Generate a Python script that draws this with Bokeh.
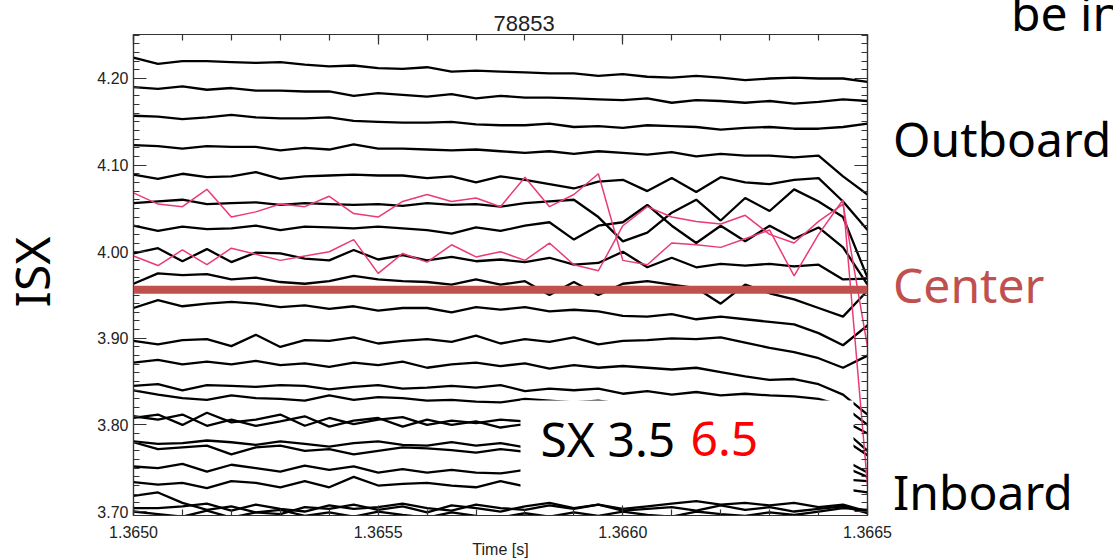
from bokeh.plotting import figure
from bokeh.layouts import row
from bokeh.models import (Range1d, LinearAxis, FixedTicker, NumeralTickFormatter,
                          CustomJSTickFormatter, Span, BoxAnnotation, Label, Div)
from bokeh.embed import file_html
from bokeh.resources import INLINE

# ---------------- data ----------------
time_s = [1.36500, 1.36505, 1.36510, 1.36515, 1.36520, 1.36525, 1.36530, 1.36535,
          1.36540, 1.36545, 1.36550, 1.36555, 1.36560, 1.36565, 1.36570, 1.36575,
          1.36580, 1.36585, 1.36590, 1.36595, 1.36600, 1.36605, 1.36610, 1.36615,
          1.36620, 1.36625, 1.36630, 1.36635, 1.36640, 1.36645, 1.36650]

ch01 = [4.224, 4.217, 4.220, 4.220, 4.219, 4.218, 4.219, 4.216, 4.214, 4.215, 4.212, 4.211, 4.213, 4.208, 4.209, 4.208,
        4.207, 4.206, 4.206, 4.203, 4.205, 4.202, 4.201, 4.203, 4.201, 4.198, 4.200, 4.201, 4.200, 4.200, 4.196]
ch02 = [4.190, 4.188, 4.191, 4.187, 4.189, 4.186, 4.186, 4.185, 4.185, 4.180, 4.183, 4.181, 4.179, 4.182, 4.177, 4.180,
        4.178, 4.178, 4.177, 4.176, 4.175, 4.177, 4.172, 4.175, 4.174, 4.172, 4.174, 4.171, 4.173, 4.176, 4.174]
ch03 = [4.157, 4.156, 4.153, 4.155, 4.158, 4.155, 4.154, 4.154, 4.155, 4.151, 4.150, 4.149, 4.149, 4.150, 4.147, 4.146,
        4.146, 4.148, 4.144, 4.145, 4.143, 4.146, 4.145, 4.144, 4.141, 4.143, 4.144, 4.142, 4.142, 4.144, 4.148]
ch04 = [4.123, 4.122, 4.119, 4.122, 4.121, 4.121, 4.117, 4.120, 4.118, 4.124, 4.119, 4.119, 4.118, 4.117, 4.118, 4.116,
        4.114, 4.116, 4.113, 4.116, 4.114, 4.112, 4.115, 4.110, 4.113, 4.111, 4.111, 4.109, 4.111, 4.087, 4.066]
ch05 = [4.089, 4.084, 4.090, 4.086, 4.087, 4.092, 4.084, 4.087, 4.088, 4.089, 4.088, 4.088, 4.085, 4.087, 4.080, 4.087,
        4.083, 4.078, 4.073, 4.081, 4.083, 4.070, 4.085, 4.069, 4.086, 4.080, 4.078, 4.083, 4.085, 4.058, 4.025]
ch06 = [4.056, 4.058, 4.060, 4.055, 4.056, 4.057, 4.054, 4.056, 4.055, 4.054, 4.055, 4.053, 4.056, 4.054, 4.055, 4.052,
        4.056, 4.058, 4.060, 4.040, 4.012, 4.022, 4.045, 4.060, 4.036, 4.062, 4.047, 4.072, 4.058, 4.040, 3.970]
ch07 = [4.030, 4.024, 4.029, 4.026, 4.027, 4.030, 4.025, 4.029, 4.028, 4.027, 4.029, 4.027, 4.025, 4.021, 4.028, 4.024,
        4.030, 4.034, 4.014, 4.030, 4.034, 4.054, 4.030, 4.010, 4.030, 4.012, 4.030, 4.015, 4.028, 4.005, 3.962]
ch08 = [3.998, 4.004, 3.989, 4.003, 3.988, 3.999, 3.998, 3.992, 3.990, 4.002, 3.991, 3.996, 3.990, 3.994, 3.989, 3.991,
        3.988, 3.993, 3.985, 3.987, 4.000, 3.982, 3.993, 3.982, 3.986, 3.984, 3.986, 3.983, 3.985, 3.968, 3.969]
ch09 = [3.963, 3.975, 3.973, 3.974, 3.968, 3.970, 3.965, 3.963, 3.966, 3.972, 3.968, 3.966, 3.965, 3.962, 3.968, 3.962,
        3.966, 3.950, 3.965, 3.950, 3.963, 3.966, 3.962, 3.958, 3.940, 3.962, 3.952, 3.945, 3.935, 3.925, 3.955]
ch10 = [3.935, 3.944, 3.937, 3.940, 3.942, 3.940, 3.936, 3.938, 3.934, 3.937, 3.932, 3.935, 3.935, 3.930, 3.936, 3.933,
        3.936, 3.931, 3.933, 3.931, 3.926, 3.925, 3.928, 3.922, 3.925, 3.922, 3.919, 3.916, 3.906, 3.892, 3.915]
ch11 = [3.897, 3.893, 3.898, 3.899, 3.891, 3.904, 3.890, 3.898, 3.897, 3.901, 3.894, 3.897, 3.899, 3.896, 3.903, 3.894,
        3.899, 3.896, 3.901, 3.893, 3.897, 3.898, 3.900, 3.899, 3.901, 3.895, 3.889, 3.884, 3.877, 3.866, 3.880]
ch12 = [3.872, 3.875, 3.870, 3.873, 3.870, 3.874, 3.869, 3.871, 3.867, 3.872, 3.869, 3.873, 3.866, 3.870, 3.872, 3.868,
        3.871, 3.865, 3.869, 3.866, 3.868, 3.866, 3.864, 3.866, 3.861, 3.856, 3.852, 3.853, 3.847, 3.835, 3.812]
ch13 = [3.845, 3.847, 3.840, 3.846, 3.845, 3.844, 3.846, 3.845, 3.841, 3.844, 3.846, 3.842, 3.843, 3.845, 3.843, 3.846,
        3.839, 3.842, 3.840, 3.842, 3.836, 3.839, 3.835, 3.838, 3.834, 3.836, 3.834, 3.833, 3.830, 3.822, 3.800]
ch14 = [3.840, 3.835, 3.831, 3.829, 3.834, 3.831, 3.830, 3.828, 3.834, 3.829, 3.832, 3.831, 3.828, 3.829, 3.827, 3.826,
        3.830, 3.828, 3.826, 3.828, 3.824, 3.826, 3.823, 3.825, 3.822, 3.821, 3.818, 3.816, 3.812, 3.805, 3.790]
ch15 = [3.808, 3.812, 3.800, 3.814, 3.803, 3.806, 3.812, 3.799, 3.808, 3.801, 3.806, 3.809, 3.800, 3.805, 3.802, 3.806,
        3.804, 3.800, 3.803, 3.801, 3.805, 3.800, 3.802, 3.799, 3.803, 3.800, 3.798, 3.801, 3.797, 3.795, 3.770]
ch16 = [3.810, 3.806, 3.812, 3.799, 3.806, 3.799, 3.804, 3.810, 3.798, 3.805, 3.808, 3.798, 3.806, 3.800, 3.804, 3.797,
        3.801, 3.796, 3.799, 3.795, 3.798, 3.794, 3.797, 3.793, 3.795, 3.792, 3.794, 3.790, 3.788, 3.784, 3.765]
ch17 = [3.781, 3.778, 3.779, 3.782, 3.780, 3.777, 3.781, 3.778, 3.775, 3.779, 3.781, 3.777, 3.776, 3.780, 3.776, 3.779,
        3.774, 3.777, 3.775, 3.778, 3.774, 3.776, 3.773, 3.775, 3.772, 3.774, 3.771, 3.770, 3.766, 3.760, 3.745]
ch18 = [3.780, 3.772, 3.774, 3.776, 3.766, 3.774, 3.776, 3.770, 3.772, 3.766, 3.770, 3.774, 3.773, 3.771, 3.768, 3.772,
        3.769, 3.770, 3.767, 3.770, 3.766, 3.768, 3.765, 3.767, 3.764, 3.765, 3.762, 3.760, 3.757, 3.752, 3.740]
ch19 = [3.752, 3.750, 3.755, 3.746, 3.754, 3.750, 3.746, 3.753, 3.748, 3.752, 3.745, 3.749, 3.745, 3.748, 3.745, 3.744,
        3.748, 3.744, 3.746, 3.742, 3.745, 3.741, 3.744, 3.740, 3.742, 3.739, 3.741, 3.738, 3.740, 3.737, 3.735]
ch20 = [3.734, 3.731, 3.733, 3.727, 3.735, 3.733, 3.728, 3.735, 3.728, 3.740, 3.730, 3.732, 3.733, 3.730, 3.728, 3.735,
        3.729, 3.733, 3.728, 3.731, 3.727, 3.730, 3.726, 3.729, 3.725, 3.728, 3.724, 3.727, 3.723, 3.726, 3.722]
ch21 = [3.718, 3.722, 3.710, 3.702, 3.706, 3.699, 3.697, 3.705, 3.703, 3.708, 3.702, 3.706, 3.699, 3.707, 3.704, 3.700,
        3.706, 3.710, 3.704, 3.708, 3.703, 3.706, 3.709, 3.712, 3.708, 3.710, 3.707, 3.710, 3.705, 3.708, 3.700]
ch22 = [3.704, 3.704, 3.706, 3.709, 3.701, 3.708, 3.703, 3.700, 3.707, 3.703, 3.705, 3.709, 3.704, 3.701, 3.708, 3.704,
        3.702, 3.707, 3.703, 3.708, 3.701, 3.703, 3.705, 3.701, 3.707, 3.702, 3.705, 3.700, 3.703, 3.706, 3.698]
ch23 = [3.700, 3.697, 3.694, 3.701, 3.693, 3.699, 3.702, 3.695, 3.699, 3.694, 3.700, 3.696, 3.693, 3.699, 3.695, 3.693,
        3.698, 3.694, 3.699, 3.695, 3.700, 3.696, 3.694, 3.700, 3.697, 3.695, 3.699, 3.696, 3.700, 3.704, 3.702]

# the two highlighted channels (SX 6.5)
pink_a = [4.068, 4.055, 4.052, 4.072, 4.040, 4.046, 4.055, 4.052, 4.064, 4.044, 4.040, 4.058, 4.066, 4.058, 4.062, 4.052,
          4.086, 4.052, 4.066, 4.090, 3.990, 3.985, 4.010, 4.008, 4.005, 4.015, 4.025, 3.972, 4.020, 4.060, 3.730]
pink_b = [3.995, 3.984, 4.002, 3.985, 4.004, 3.997, 3.990, 3.995, 4.000, 4.014, 3.975, 3.998, 3.988, 4.008, 3.994, 4.000,
          3.990, 4.010, 3.985, 3.978, 4.030, 4.052, 4.040, 4.035, 4.032, 4.042, 4.020, 4.010, 4.035, 4.055, 3.890]

black_channels = [ch01, ch02, ch03, ch04, ch05, ch06, ch07, ch08, ch09, ch10, ch11, ch12,
                  ch13, ch14, ch15, ch16, ch17, ch18, ch19, ch20, ch21, ch22, ch23]
pink_channels = [pink_a, pink_b]

center_isx = 3.956

x_major = [1.3650, 1.3655, 1.3660, 1.3665]
y_major = [3.70, 3.80, 3.90, 4.00, 4.10, 4.20]

# ---------------- layout (page pixels) ----------------
W, H = 1113, 560
LEFT_W = 80            # strip holding the "ISX" label
RIGHT_X = 893          # strip holding Outboard / Center / Inboard
FL, FR, FT, FB = 133, 867, 34, 515
X0, X1 = 1.3650, 1.3665
Y0, Y1 = 3.6954, 4.2508


def px2x(px):
    return X0 + (px - FL) / (FR - FL) * (X1 - X0)


def px2y(py):
    return Y1 - (py - FT) / (FB - FT) * (Y1 - Y0)


p = figure(width=RIGHT_X - LEFT_W, height=H, x_range=Range1d(X0, X1), y_range=Range1d(Y0, Y1),
           output_backend="svg", toolbar_location=None,
           x_axis_location=None, y_axis_location=None,
           min_border_left=FL - LEFT_W, min_border_right=RIGHT_X - FR,
           min_border_top=FT, min_border_bottom=H - FB)
p.grid.visible = False
p.outline_line_color = "#333333"
p.outline_line_width = 1.2
p.background_fill_color = "white"
p.border_fill_color = "white"

p.title.text = "78853"
p.title.align = "left"
p.title.offset = 360
p.title.standoff = 8
p.title.text_font = "Liberation Sans"
p.title.text_font_size = "22px"
p.title.text_font_style = "normal"
p.title.text_color = "#222222"

x_minor = [round(1.3650 + 0.0001 * k, 4) for k in range(16)]
y_minor = [round(3.70 + 0.01 * k, 2) for k in range(56)]

AX_COL = "#333333"


def make_axis(ticks, minor, formatter, tin, mtin, standoff):
    return LinearAxis(ticker=FixedTicker(ticks=ticks, minor_ticks=minor), formatter=formatter,
                      major_tick_in=tin, major_tick_out=0, minor_tick_in=mtin, minor_tick_out=0,
                      axis_line_color=AX_COL, axis_line_width=1.2,
                      major_tick_line_color=AX_COL, minor_tick_line_color=AX_COL,
                      major_tick_line_width=1.2, minor_tick_line_width=1.2,
                      major_label_text_font="Liberation Sans", major_label_text_font_size="16px",
                      major_label_text_color="#222222", major_label_standoff=standoff)


blank = CustomJSTickFormatter(code="return ''")
p.add_layout(make_axis(y_major, y_minor, NumeralTickFormatter(format="0.00"), 13, 6, 5), "left")
p.add_layout(make_axis(y_major, y_minor, blank, 13, 6, 0), "right")
xb = make_axis(x_major, x_minor, NumeralTickFormatter(format="0.0000"), 10, 6, 10)
xb.axis_label = "Time [s]"
xb.axis_label_text_font = "Liberation Sans"
xb.axis_label_text_font_size = "16px"
xb.axis_label_text_font_style = "normal"
xb.axis_label_text_color = "#222222"
xb.axis_label_standoff = 0
p.add_layout(xb, "below")
p.add_layout(make_axis(x_major, x_minor, blank, 10, 6, 0), "above")

for ch in black_channels:
    p.line(time_s, ch, line_color="black", line_width=2.3)
for ch in pink_channels:
    p.line(time_s, ch, line_color="#EB3B72", line_width=1.5)

p.add_layout(Span(location=center_isx, dimension="width", line_color="#C0504D", line_width=8))
p.add_layout(BoxAnnotation(left=px2x(520), right=px2x(853), top=px2y(400), bottom=px2y(498),
                           fill_color="white", fill_alpha=1.0, line_alpha=0))

SLIDE_FONT = "Noto Sans"
for txt, px, col in [("SX 3.5", 540, "black"), ("6.5", 690, "#FF0000")]:
    p.add_layout(Label(x=px2x(px), y=px2y(438), text=txt, text_font=SLIDE_FONT, text_font_size="48px",
                       text_color=col, text_align="left", text_baseline="middle"))

# ---------------- slide texts around the plot (HTML strips) ----------------
FS = 48
ASC = 0.888  # baseline offset below the line-box top for Noto Sans with line-height 1


def span_html(text, left, baseline, color, extra=""):
    top = baseline - ASC * FS
    return (f'<span style="position:absolute;left:{left}px;top:{top:.1f}px;'
            f"font-family:'Noto Sans';font-size:{FS}px;line-height:{FS}px;"
            f'color:{color};white-space:nowrap;{extra}">{text}</span>')


def strip_div(width, spans):
    html = (f'<div style="position:relative;width:{width}px;height:{H}px;overflow:hidden;'
            f'background:white;margin:0;padding:0;">' + "".join(spans) + "</div>")
    return Div(text=html, width=width, height=H, margin=0)


left_div = strip_div(LEFT_W, [
    f'<span style="position:absolute;left:32px;top:272px;transform:translate(-50%,-50%) rotate(-90deg);'
    f"font-family:'Noto Sans';font-size:{FS}px;line-height:{FS}px;color:black;white-space:nowrap;\">ISX</span>"
])

rx = RIGHT_X
right_div = strip_div(W - RIGHT_X, [
    span_html("Outboard", 0, 158, "black"),
    span_html("Center", 0, 304, "#C0504D"),
    span_html("Inboard", 0, 511, "black"),
    span_html("be in", 1011 - rx, 32, "black"),
])

layout = row(left_div, p, right_div, spacing=0)
open("out.html", "w").write(file_html(layout, INLINE))
